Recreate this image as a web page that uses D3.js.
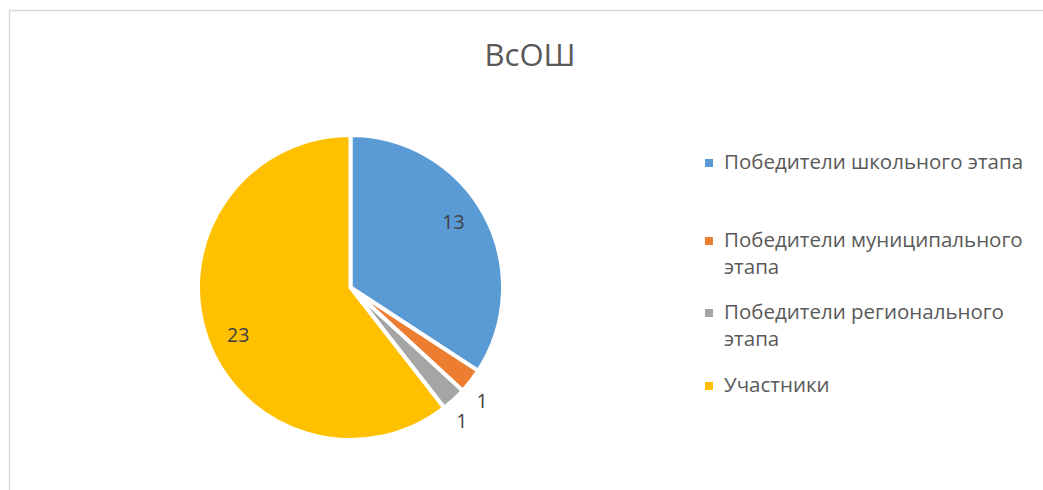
<!DOCTYPE html>
<meta charset="utf-8">
<html>
  <head>
    <style>
      body { margin: 0; background: #fff; }
      svg { display: block; font-family: "Open Sans", sans-serif; }
    </style>
  </head>
  <body>
    <div id="chart"></div>
    <script src="https://d3js.org/d3.v7.min.js"></script>
    <script>
// data
var categories = ["Победители школьного этапа", "Победители муниципального этапа", "Победители регионального этапа", "Участники"]
var values = [13, 1, 1, 23]
var legendLines = [["Победители школьного этапа"], ["Победители муниципального", "этапа"], ["Победители регионального", "этапа"], ["Участники"]]
var colors = ["#5B9BD5", "#ED7D31", "#A5A5A5", "#FFC000"]
var title = "ВсОШ"

var width = 1043, height = 490
var cx = 350.5, cy = 287.5, radius = 152.5

var svg = d3.select("#chart").append("svg")
    .attr("width", width)
    .attr("height", height)

// chart area border (only left and top visible)
svg.append("rect")
    .attr("x", 9.5).attr("y", 10.5)
    .attr("width", width + 20).attr("height", height + 20)
    .style("fill", "none")
    .style("stroke", "#d9d9d9")
    .style("stroke-width", 1.5)

svg.append("text")
    .attr("x", 530)
    .attr("y", 66)
    .attr("text-anchor", "middle")
    .style("font-size", "31px")
    .style("fill", "#595959")
    .text(title)

var pie = d3.pie().sort(null)
var arcs = pie(values)
var arc = d3.arc().innerRadius(0).outerRadius(radius)
var total = d3.sum(values)

var g = svg.append("g")
    .attr("transform", "translate(" + cx + "," + cy + ")")

g.selectAll("path")
  .data(arcs)
  .enter()
  .append("path")
    .attr("d", arc)
    .style("fill", function(d, i) { return colors[i] })
    .style("stroke", "#fff")
    .style("stroke-width", 4)
    .style("stroke-linejoin", "round")

// labels: inside for big slices, outside for thin ones
var inArc = d3.arc().innerRadius(radius * 0.8).outerRadius(radius * 0.8)
var outArc = d3.arc().innerRadius(radius * 1.14).outerRadius(radius * 1.14)

g.selectAll(".lbl")
  .data(arcs)
  .enter()
  .append("text")
    .attr("class", "lbl")
    .attr("transform", function(d) {
      var small = d.value / total < 0.05
      var a = small ? outArc : inArc
      // excel's best fit nudges the labels a bit off the slice middle
      var shift = small ? 0.05 : -0.07
      var dd = {startAngle: d.startAngle + shift, endAngle: d.endAngle + shift}
      return "translate(" + a.centroid(dd) + ")"
    })
    .attr("text-anchor", "middle")
    .attr("dy", "0.36em")
    .style("font-size", "19.5px")
    .style("fill", "#404040")
    .text(function(d) { return d.value })

// legend
var legendY = [169, 247, 319, 392]
var legend = svg.selectAll(".leg")
  .data(categories)
  .enter()
  .append("g")
    .attr("class", "leg")
    .attr("transform", function(d, i) { return "translate(705," + legendY[i] + ")" })

legend.append("rect")
    .attr("x", 0).attr("y", -10)
    .attr("width", 8).attr("height", 8)
    .style("fill", function(d, i) { return colors[i] })

legend.append("text")
    .attr("x", 19)
    .style("font-size", "20.5px")
    .style("fill", "#595959")
    .selectAll("tspan")
    .data(function(d, i) { return legendLines[i] })
    .enter()
    .append("tspan")
      .attr("x", 19)
      .attr("dy", function(d, j) { return j === 0 ? 0 : 26.5 })
      .text(function(d) { return d })
    </script>
  </body>
</html>
